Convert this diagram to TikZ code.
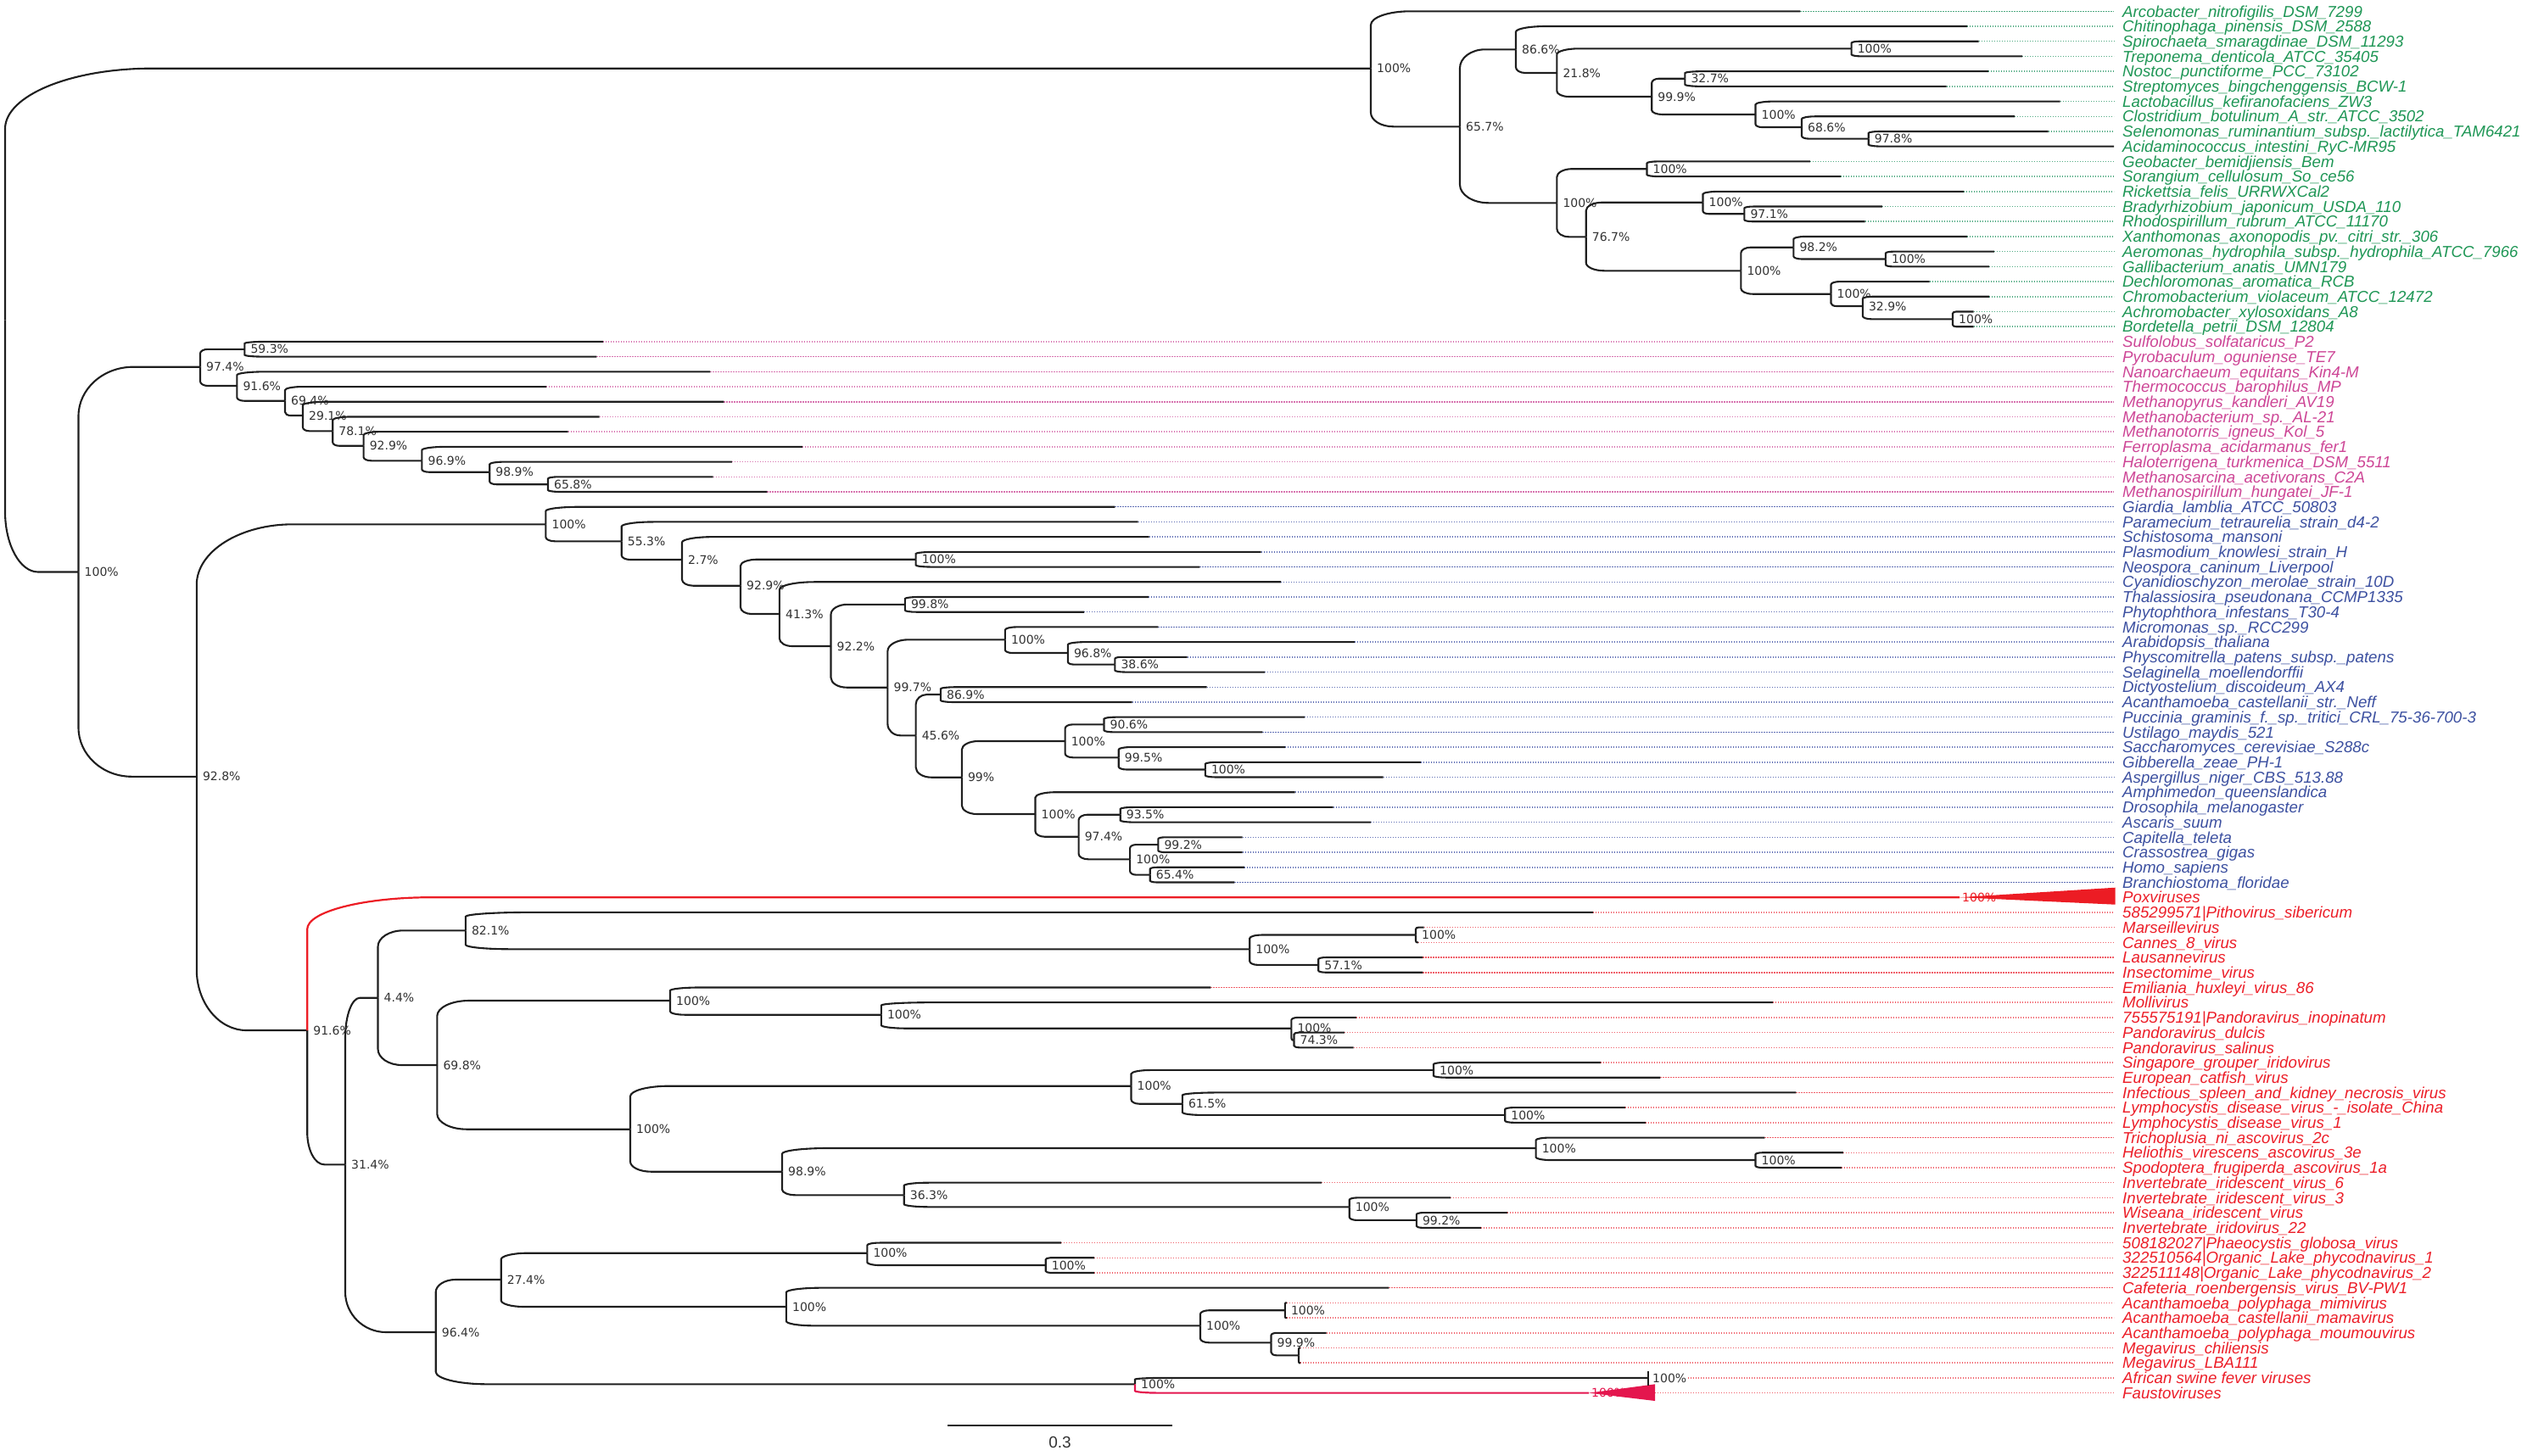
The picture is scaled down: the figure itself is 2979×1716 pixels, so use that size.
\documentclass[tikz,border=0pt]{standalone}
\usepackage{fontspec}
\setmainfont{Liberation Sans}
\newfontfamily\bsfamily{DejaVu Sans}
\usetikzlibrary{calc}
\definecolor{brk}{RGB}{30,30,30}
\definecolor{bsgray}{RGB}{50,50,50}
\definecolor{bacG}{RGB}{30,150,85}
\definecolor{bacD}{RGB}{80,170,130}
\definecolor{arcP}{RGB}{205,70,150}
\definecolor{arcD}{RGB}{215,115,175}
\definecolor{eukB}{RGB}{60,80,160}
\definecolor{eukD}{RGB}{95,110,180}
\definecolor{virR}{RGB}{236,30,40}
\definecolor{virD}{RGB}{240,95,105}
\definecolor{poxred}{RGB}{236,28,36}
\definecolor{fauRed}{RGB}{228,22,78}
\tikzset{
 branch/.style={line width=2.1pt, draw=brk},
 poxline/.style={draw=poxred, line width=2.2pt},
 faustline/.style={draw=fauRed, line width=2.2pt},
 dotline/.style={line width=1.5pt, dash pattern=on 1.2pt off 1.8pt, shorten >=10pt},
 bs/.style={anchor=west, xshift=7pt, inner sep=0pt, text=bsgray, font=\bsfamily\fontsize{14}{14}\selectfont},
 leaflabel/.style={anchor=base west, inner sep=0pt, font=\fontsize{18.7}{20}\selectfont\itshape},
}
\newcommand\tbr[3][]{%
  \draw[branch,#1] let \p1=(#2), \p2=(#3), \n1={\y2-\y1}, \n5={\x2-\x1},
    \n2={min(abs(\n1)*0.24,80)}, \n3={min(1.3*\n2+0.05*\n5,0.45*\n5)}, \n4={sign(\n1)}
  in (\x1,\y1) -- (\x1,{\y2-\n4*\n2}) .. controls (\x1,{\y2-\n4*\n2*0.448}) and ({\x1+\n3*0.448},\y2) .. ({\x1+\n3},\y2) -- (\x2,\y2);}
\newcommand\tleaf[4]{%
  \coordinate (l#1) at (#2,{13.3+17.71*#1});
  \node[leaflabel,text=#3] (t#1) at (2502,{13.3+17.71*#1+6.7}) {#4};}
\newcommand\tdot[2]{\draw[dotline,draw=#2] (l#1) -- (l#1 -| t#1.west);}
\newcommand\tnode[4]{\coordinate (#1) at (#2,#3); \node[bs] (#1t) at (#2,#3) {#4};}
\begin{document}
\begin{tikzpicture}[x=1pt,y=-1pt]
\useasboundingbox (0,0) rectangle (2979,1716);
% ---------- leaves ----------
\tleaf{0}{2122.3}{bacG}{Arcobacter\_nitrofigilis\_DSM\_7299}
\tleaf{1}{2319}{bacG}{Chitinophaga\_pinensis\_DSM\_2588}
\tleaf{2}{2332.5}{bacG}{Spirochaeta\_smaragdinae\_DSM\_11293}
\tleaf{3}{2384}{bacG}{Treponema\_denticola\_ATCC\_35405}
\tleaf{4}{2344}{bacG}{Nostoc\_punctiforme\_PCC\_73102}
\tleaf{5}{2294.5}{bacG}{Streptomyces\_bingchenggensis\_BCW-1}
\tleaf{6}{2428.5}{bacG}{Lactobacillus\_kefiranofaciens\_ZW3}
\tleaf{7}{2375}{bacG}{Clostridium\_botulinum\_A\_str.\_ATCC\_3502}
\tleaf{8}{2414.5}{bacG}{Selenomonas\_ruminantium\_subsp.\_lactilytica\_TAM6421}
\tleaf{9}{2492}{bacG}{Acidaminococcus\_intestini\_RyC-MR95}
\tleaf{10}{2133.8}{bacG}{Geobacter\_bemidjiensis\_Bem}
\tleaf{11}{2170}{bacG}{Sorangium\_cellulosum\_So\_ce56}
\tleaf{12}{2315}{bacG}{Rickettsia\_felis\_URRWXCal2}
\tleaf{13}{2218.8}{bacG}{Bradyrhizobium\_japonicum\_USDA\_110}
\tleaf{14}{2198.7}{bacG}{Rhodospirillum\_rubrum\_ATCC\_11170}
\tleaf{15}{2319.2}{bacG}{Xanthomonas\_axonopodis\_pv.\_citri\_str.\_306}
\tleaf{16}{2350.8}{bacG}{Aeromonas\_hydrophila\_subsp.\_hydrophila\_ATCC\_7966}
\tleaf{17}{2345}{bacG}{Gallibacterium\_anatis\_UMN179}
\tleaf{18}{2274.5}{bacG}{Dechloromonas\_aromatica\_RCB}
\tleaf{19}{2345}{bacG}{Chromobacterium\_violaceum\_ATCC\_12472}
\tleaf{20}{2326.7}{bacG}{Achromobacter\_xylosoxidans\_A8}
\tleaf{21}{2326.7}{bacG}{Bordetella\_petrii\_DSM\_12804}
\tleaf{22}{711}{arcP}{Sulfolobus\_solfataricus\_P2}
\tleaf{23}{703.4}{arcP}{Pyrobaculum\_oguniense\_TE7}
\tleaf{24}{837.4}{arcP}{Nanoarchaeum\_equitans\_Kin4-M}
\tleaf{25}{644}{arcP}{Thermococcus\_barophilus\_MP}
\tleaf{26}{853.3}{arcP}{Methanopyrus\_kandleri\_AV19}
\tleaf{27}{706.6}{arcP}{Methanobacterium\_sp.\_AL-21}
\tleaf{28}{669.6}{arcP}{Methanotorris\_igneus\_Kol\_5}
\tleaf{29}{945.8}{arcP}{Ferroplasma\_acidarmanus\_fer1}
\tleaf{30}{862.9}{arcP}{Haloterrigena\_turkmenica\_DSM\_5511}
\tleaf{31}{840.6}{arcP}{Methanosarcina\_acetivorans\_C2A}
\tleaf{32}{904.3}{arcP}{Methanospirillum\_hungatei\_JF-1}
\tleaf{33}{1314.3}{eukB}{Giardia\_lamblia\_ATCC\_50803}
\tleaf{34}{1341.7}{eukB}{Paramecium\_tetraurelia\_strain\_d4-2}
\tleaf{35}{1354.5}{eukB}{Schistosoma\_mansoni}
\tleaf{36}{1486.5}{eukB}{Plasmodium\_knowlesi\_strain\_H}
\tleaf{37}{1414.4}{eukB}{Neospora\_caninum\_Liverpool}
\tleaf{38}{1510}{eukB}{Cyanidioschyzon\_merolae\_strain\_10D}
\tleaf{39}{1353.8}{eukB}{Thalassiosira\_pseudonana\_CCMP1335}
\tleaf{40}{1278}{eukB}{Phytophthora\_infestans\_T30-4}
\tleaf{41}{1365.3}{eukB}{Micromonas\_sp.\_RCC299}
\tleaf{42}{1596.9}{eukB}{Arabidopsis\_thaliana}
\tleaf{43}{1399.5}{eukB}{Physcomitrella\_patens\_subsp.\_patens}
\tleaf{44}{1491}{eukB}{Selaginella\_moellendorffii}
\tleaf{45}{1422.7}{eukB}{Dictyostelium\_discoideum\_AX4}
\tleaf{46}{1334.7}{eukB}{Acanthamoeba\_castellanii\_str.\_Neff}
\tleaf{47}{1538}{eukB}{Puccinia\_graminis\_f.\_sp.\_tritici\_CRL\_75-36-700-3}
\tleaf{48}{1488.4}{eukB}{Ustilago\_maydis\_521}
\tleaf{49}{1515.2}{eukB}{Saccharomyces\_cerevisiae\_S288c}
\tleaf{50}{1674.9}{eukB}{Gibberella\_zeae\_PH-1}
\tleaf{51}{1630.5}{eukB}{Aspergillus\_niger\_CBS\_513.88}
\tleaf{52}{1526.6}{eukB}{Amphimedon\_queenslandica}
\tleaf{53}{1571.5}{eukB}{Drosophila\_melanogaster}
\tleaf{54}{1616}{eukB}{Ascaris\_suum}
\tleaf{55}{1464.5}{eukB}{Capitella\_teleta}
\tleaf{56}{1464.5}{eukB}{Crassostrea\_gigas}
\tleaf{57}{1466.8}{eukB}{Homo\_sapiens}
\tleaf{58}{1455.3}{eukB}{Branchiostoma\_floridae}
\tleaf{59}{2310}{virR}{Poxviruses}
\tleaf{60}{1878.2}{virR}{585299571|Pithovirus\_sibericum}
\tleaf{61}{1678.6}{virR}{Marseillevirus}
\tleaf{62}{1672.2}{virR}{Cannes\_8\_virus}
\tleaf{63}{1677.3}{virR}{Lausannevirus}
\tleaf{64}{1677.3}{virR}{Insectomime\_virus}
\tleaf{65}{1427.3}{virR}{Emiliania\_huxleyi\_virus\_86}
\tleaf{66}{2090}{virR}{Mollivirus}
\tleaf{67}{1598.9}{virR}{755575191|Pandoravirus\_inopinatum}
\tleaf{68}{1584.8}{virR}{Pandoravirus\_dulcis}
\tleaf{69}{1595.7}{virR}{Pandoravirus\_salinus}
\tleaf{70}{1887.1}{virR}{Singapore\_grouper\_iridovirus}
\tleaf{71}{1957.3}{virR}{European\_catfish\_virus}
\tleaf{72}{2117.3}{virR}{Infectious\_spleen\_and\_kidney\_necrosis\_virus}
\tleaf{73}{1915.8}{virR}{Lymphocystis\_disease\_virus\_-\_isolate\_China}
\tleaf{74}{1940}{virR}{Lymphocystis\_disease\_virus\_1}
\tleaf{75}{2080.4}{virR}{Trichoplusia\_ni\_ascovirus\_2c}
\tleaf{76}{2172.8}{virR}{Heliothis\_virescens\_ascovirus\_3e}
\tleaf{77}{2170.9}{virR}{Spodoptera\_frugiperda\_ascovirus\_1a}
\tleaf{78}{1558.1}{virR}{Invertebrate\_iridescent\_virus\_6}
\tleaf{79}{1710}{virR}{Invertebrate\_iridescent\_virus\_3}
\tleaf{80}{1777.2}{virR}{Wiseana\_iridescent\_virus}
\tleaf{81}{1745.8}{virR}{Invertebrate\_iridovirus\_22}
\tleaf{82}{1251.2}{virR}{508182027|Phaeocystis\_globosa\_virus}
\tleaf{83}{1290.2}{virR}{322510564|Organic\_Lake\_phycodnavirus\_1}
\tleaf{84}{1290.2}{virR}{322511148|Organic\_Lake\_phycodnavirus\_2}
\tleaf{85}{1637.3}{virR}{Cafeteria\_roenbergensis\_virus\_BV-PW1}
\tleaf{86}{1517}{virR}{Acanthamoeba\_polyphaga\_mimivirus}
\tleaf{87}{1517}{virR}{Acanthamoeba\_castellanii\_mamavirus}
\tleaf{88}{1563.6}{virR}{Acanthamoeba\_polyphaga\_moumouvirus}
\tleaf{89}{1533}{virR}{Megavirus\_chiliensis}
\tleaf{90}{1533}{virR}{Megavirus\_LBA111}
\tleaf{91}{1943}{virR}{African swine fever viruses}
\tleaf{92}{1873}{virR}{Faustoviruses}
% ---------- dotted leaders ----------
\foreach \i in {0,...,8,10,11,...,21} {\tdot{\i}{bacD}}
\foreach \i in {22,...,32} {\tdot{\i}{arcD}}
\foreach \i in {33,...,58} {\tdot{\i}{eukD}}
\foreach \i in {60,...,90} {\tdot{\i}{virD}}
\coordinate (asf) at (1990,{13.3+17.71*91});
\coordinate (fau) at (1951,{13.3+17.71*92});
\draw[dotline,draw=virD] (asf) -- (asf -| t91.west);
\draw[dotline,draw=virD] (fau) -- (fau -| t92.west);
% ---------- internal nodes ----------
\coordinate (R) at (6,377.6);
\tnode{B0}{1616}{80.7}{100\%}
\tnode{B1}{1721}{149.3}{65.7\%}
\tnode{B2}{1787}{58.3}{86.6\%}
\tnode{B3}{1835.3}{86}{21.8\%}
\tnode{B4}{2182.6}{57.3}{100\%}
\tnode{B5}{1947.2}{114}{99.9\%}
\tnode{B6}{1986.3}{92.7}{32.7\%}
\tnode{B7}{2069.5}{135}{100\%}
\tnode{B8}{2124}{150}{68.6\%}
\tnode{B9}{2202.7}{163.6}{97.8\%}
\tnode{B10}{1835.3}{239.3}{100\%}
\tnode{B11}{1941.5}{199.2}{100\%}
\tnode{B12}{1869.7}{279.3}{76.7\%}
\tnode{B13}{2007.5}{238.7}{100\%}
\tnode{B15}{2056.3}{252.2}{97.1\%}
\tnode{B14}{2052.3}{319.3}{100\%}
\tnode{B16}{2114.3}{291.7}{98.2\%}
\tnode{B18}{2222.8}{305.5}{100\%}
\tnode{B17}{2158.5}{346.7}{100\%}
\tnode{B19}{2195.8}{361}{32.9\%}
\tnode{B20}{2302}{376.3}{100\%}
\tnode{A0}{92.5}{674.5}{100\%}
\tnode{A1}{236}{432.7}{97.4\%}
\tnode{A2}{288.3}{411.8}{59.3\%}
\tnode{A3}{279.3}{455}{91.6\%}
\tnode{A4}{336}{472.7}{69.4\%}
\tnode{A5}{357}{490}{29.1\%}
\tnode{A6}{392.2}{508.3}{78.1\%}
\tnode{A7}{428.6}{525.7}{92.9\%}
\tnode{A8}{497.4}{543.3}{96.9\%}
\tnode{A9}{577.2}{556.7}{98.9\%}
\tnode{A10}{646}{571.2}{65.8\%}
\tnode{N2}{231.8}{915.8}{92.8\%}
\tnode{E0}{643.4}{618.3}{100\%}
\tnode{E1}{732.7}{638.3}{55.3\%}
\tnode{E2}{804}{660}{2.7\%}
\tnode{E3}{873}{690.7}{92.9\%}
\tnode{E4}{1079.6}{659.7}{100\%}
\tnode{E5}{918.9}{724}{41.3\%}
\tnode{E6}{979.5}{762}{92.2\%}
\tnode{E7}{1066.8}{712.8}{99.8\%}
\tnode{E8}{1046.4}{810.7}{99.7\%}
\tnode{E9}{1184.8}{754.3}{100\%}
\tnode{E11}{1258.8}{770}{96.8\%}
\tnode{E12}{1314.3}{783.6}{38.6\%}
\tnode{E10}{1079.6}{867.3}{45.6\%}
\tnode{E13}{1108.9}{819}{86.9\%}
\tnode{E14}{1133.8}{916.7}{99\%}
\tnode{E15}{1255.6}{874}{100\%}
\tnode{E17}{1301.5}{854.4}{90.6\%}
\tnode{E18}{1318.7}{893.3}{99.5\%}
\tnode{E19}{1420.8}{907.5}{100\%}
\tnode{E16}{1220.5}{960}{100\%}
\tnode{E20}{1271.6}{986.7}{97.4\%}
\tnode{E21}{1320.7}{960.7}{93.5\%}
\tnode{E22}{1332.1}{1013.3}{100\%}
\tnode{E23}{1365.3}{996.1}{99.2\%}
\tnode{E24}{1355.7}{1031.6}{65.4\%}
\tnode{V0}{362.2}{1215}{91.6\%}
\tnode{V1}{407}{1373.3}{31.4\%}
\tnode{V2}{445.5}{1176.7}{4.4\%}
\tnode{V4}{548.8}{1097.3}{82.1\%}
\tnode{V6}{1473.2}{1119.3}{100\%}
\tnode{V7}{1669}{1102.5}{100\%}
\tnode{V8}{1554.2}{1137.9}{57.1\%}
\tnode{V5}{515.3}{1256}{69.8\%}
\tnode{V9}{790}{1180}{100\%}
\tnode{V11}{1038.8}{1196.7}{100\%}
\tnode{V12}{1522.3}{1212.7}{100\%}
\tnode{V13}{1525.5}{1226.5}{74.3\%}
\tnode{V10}{743}{1331.7}{100\%}
\tnode{V14}{1333.5}{1280.7}{100\%}
\tnode{V16}{1690}{1261.9}{100\%}
\tnode{V17}{1393.8}{1301.7}{61.5\%}
\tnode{V18}{1774.2}{1314.9}{100\%}
\tnode{V15}{922}{1381.7}{98.9\%}
\tnode{V19}{1810.6}{1354}{100\%}
\tnode{V20}{2069.5}{1368}{100\%}
\tnode{V21}{1065.7}{1409.3}{36.3\%}
\tnode{V22}{1590.7}{1423.3}{100\%}
\tnode{V23}{1669.8}{1438.9}{99.2\%}
\tnode{V3}{513.7}{1571}{96.4\%}
\tnode{V24}{590.7}{1509}{27.4\%}
\tnode{V26}{1022.3}{1477.7}{100\%}
\tnode{V28}{1232.7}{1492}{100\%}
\tnode{V27}{926.9}{1541}{100\%}
\tnode{V29}{1415}{1563.3}{100\%}
\tnode{V30}{1514.8}{1545.2}{100\%}
\tnode{V31}{1498.5}{1583.3}{99.9\%}
\coordinate (V32) at (1531,1598.3);
\tnode{V25}{1338}{1632.3}{100\%}
% ---------- branches ----------
\tbr{R}{B0} \tbr{R}{A0}
\tbr{B0}{l0} \tbr{B0}{B1}
\tbr{B1}{B2} \tbr{B1}{B10}
\tbr{B2}{l1} \tbr{B2}{B3}
\tbr{B3}{B4} \tbr{B3}{B5}
\tbr{B4}{l2} \tbr{B4}{l3}
\tbr{B5}{B6} \tbr{B5}{B7}
\tbr{B6}{l4} \tbr{B6}{l5}
\tbr{B7}{l6} \tbr{B7}{B8}
\tbr{B8}{l7} \tbr{B8}{B9}
\tbr{B9}{l8} \tbr{B9}{l9}
\tbr{B10}{B11} \tbr{B10}{B12}
\tbr{B11}{l10} \tbr{B11}{l11}
\tbr{B12}{B13} \tbr{B12}{B14}
\tbr{B13}{l12} \tbr{B13}{B15}
\tbr{B15}{l13} \tbr{B15}{l14}
\tbr{B14}{B16} \tbr{B14}{B17}
\tbr{B16}{l15} \tbr{B16}{B18}
\tbr{B18}{l16} \tbr{B18}{l17}
\tbr{B17}{l18} \tbr{B17}{B19}
\tbr{B19}{l19} \tbr{B19}{B20}
\tbr{B20}{l20} \tbr{B20}{l21}
\tbr{A0}{A1} \tbr{A0}{N2}
\tbr{A1}{A2} \tbr{A1}{A3}
\tbr{A2}{l22} \tbr{A2}{l23}
\tbr{A3}{l24} \tbr{A3}{A4}
\tbr{A4}{l25} \tbr{A4}{A5}
\tbr{A5}{l26} \tbr{A5}{A6}
\tbr{A6}{l27} \tbr{A6}{A7}
\tbr{A7}{l28} \tbr{A7}{A8}
\tbr{A8}{l29} \tbr{A8}{A9}
\tbr{A9}{l30} \tbr{A9}{A10}
\tbr{A10}{l31} \tbr{A10}{l32}
\tbr{N2}{E0} \tbr{N2}{V0}
\tbr{E0}{l33} \tbr{E0}{E1}
\tbr{E1}{l34} \tbr{E1}{E2}
\tbr{E2}{l35} \tbr{E2}{E3}
\tbr{E3}{E4} \tbr{E3}{E5}
\tbr{E4}{l36} \tbr{E4}{l37}
\tbr{E5}{l38} \tbr{E5}{E6}
\tbr{E6}{E7} \tbr{E6}{E8}
\tbr{E7}{l39} \tbr{E7}{l40}
\tbr{E8}{E9} \tbr{E8}{E10}
\tbr{E9}{l41} \tbr{E9}{E11}
\tbr{E11}{l42} \tbr{E11}{E12}
\tbr{E12}{l43} \tbr{E12}{l44}
\tbr{E10}{E13} \tbr{E10}{E14}
\tbr{E13}{l45} \tbr{E13}{l46}
\tbr{E14}{E15} \tbr{E14}{E16}
\tbr{E15}{E17} \tbr{E15}{E18}
\tbr{E17}{l47} \tbr{E17}{l48}
\tbr{E18}{l49} \tbr{E18}{E19}
\tbr{E19}{l50} \tbr{E19}{l51}
\tbr{E16}{l52} \tbr{E16}{E20}
\tbr{E20}{E21} \tbr{E20}{E22}
\tbr{E21}{l53} \tbr{E21}{l54}
\tbr{E22}{E23} \tbr{E22}{E24}
\tbr{E23}{l55} \tbr{E23}{l56}
\tbr{E24}{l57} \tbr{E24}{l58}
\tbr{V0}{V1}
\tbr{V1}{V2} \tbr{V1}{V3}
\tbr{V2}{V4} \tbr{V2}{V5}
\tbr{V4}{l60} \tbr{V4}{V6}
\tbr{V6}{V7} \tbr{V6}{V8}
\tbr{V7}{l61} \tbr{V7}{l62}
\tbr{V8}{l63} \tbr{V8}{l64}
\tbr{V5}{V9} \tbr{V5}{V10}
\tbr{V9}{l65} \tbr{V9}{V11}
\tbr{V11}{l66} \tbr{V11}{V12}
\tbr{V12}{l67} \tbr{V12}{V13}
\tbr{V13}{l68} \tbr{V13}{l69}
\tbr{V10}{V14} \tbr{V10}{V15}
\tbr{V14}{V16} \tbr{V14}{V17}
\tbr{V16}{l70} \tbr{V16}{l71}
\tbr{V17}{l72} \tbr{V17}{V18}
\tbr{V18}{l73} \tbr{V18}{l74}
\tbr{V15}{V19} \tbr{V15}{V21}
\tbr{V19}{l75} \tbr{V19}{V20}
\tbr{V20}{l76} \tbr{V20}{l77}
\tbr{V21}{l78} \tbr{V21}{V22}
\tbr{V22}{l79} \tbr{V22}{V23}
\tbr{V23}{l80} \tbr{V23}{l81}
\tbr{V3}{V24} \tbr{V3}{V25}
\tbr{V24}{V26} \tbr{V24}{V27}
\tbr{V26}{l82} \tbr{V26}{V28}
\tbr{V28}{l83} \tbr{V28}{l84}
\tbr{V27}{l85} \tbr{V27}{V29}
\tbr{V29}{V30} \tbr{V29}{V31}
\tbr{V30}{l86} \tbr{V30}{l87}
\tbr{V31}{l88} \tbr{V31}{V32}
\tbr{V32}{l89} \tbr{V32}{l90}
\tbr{V25}{l91}
\tbr[poxline]{V0}{l59}
\tbr[faustline]{V25}{l92}
% ---------- collapsed clades ----------
\node[bs,text=poxred,xshift=-4pt] (poxbs) at (l59) {100\%};
\coordinate (poxA) at (2493.6,1046.7);
\coordinate (poxB) at (2493.6,1066.7);
\fill[poxred] (l59) -- (poxA) -- (poxB) -- cycle;
\node[bs,text=fauRed,xshift=-4pt] (faubs) at (l92) {100\%};
\coordinate (fauA) at (1951,1632.3);
\coordinate (fauB) at (1951,1652);
\fill[fauRed] (l92) -- (fauA) -- (fauB) -- cycle;
\coordinate (asfT) at (1943,1616.5);
\coordinate (asfB) at (1943,1633.5);
\draw[branch,line width=1.4pt] (asfT) -- (asfB);
\node[bs,xshift=-2pt] (asfbs) at (l91) {100\%};
% ---------- scale bar ----------
\coordinate (sbL) at (1117,1681);
\coordinate (sbR) at (1382,1681);
\draw[branch,line width=2.4pt] (sbL) -- (sbR);
\node[text=bsgray,font=\fontsize{19}{19}\selectfont,anchor=north] (sbt) at ($(sbL)!0.5!(sbR)+(0,10)$) {0.3};
\end{tikzpicture}
\end{document}
